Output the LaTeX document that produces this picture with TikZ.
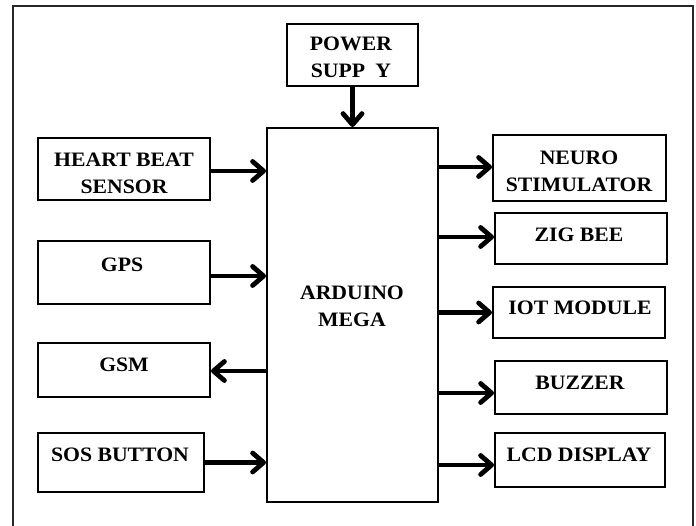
\documentclass[tikz,border=0pt]{standalone}
\usepackage{fontspec}
\setmainfont[FakeStretch=1.06]{Liberation Serif}
\usetikzlibrary{arrows.meta}
\begin{document}
\begin{tikzpicture}[x=1pt,y=-1pt,
  blk/.style={draw=black, line width=2pt, rectangle, inner sep=0pt},
  lbl/.style={font=\bfseries\fontsize{20.5}{27}\selectfont, align=center, inner sep=0pt},
  arr/.style={line width=4.8pt, -{Straight Barb[length=11pt,width=19pt,round]}},
  frm/.style={draw=black!85, line width=1.8pt}
]
\useasboundingbox (0,0) rectangle (696,526);
\begin{scope}
\clip (0,0) rectangle (696,526);
\draw[frm] (13,540) -- (13,6) -- (693,6) -- (693,540);
\end{scope}
% boxes
\node[blk, minimum width=131pt, minimum height=62pt] (ps) at (352.5,55) {};
\node[blk, minimum width=171pt, minimum height=374pt] (ard) at (352.5,315) {};
\node[blk, minimum width=172pt, minimum height=62pt] (hb) at (124,169) {};
\node[blk, minimum width=172pt, minimum height=63pt] (gps) at (124,272.5) {};
\node[blk, minimum width=172pt, minimum height=54pt] (gsm) at (124,370) {};
\node[blk, minimum width=166pt, minimum height=59pt] (sos) at (121,462.5) {};
\node[blk, minimum width=173pt, minimum height=66pt] (neuro) at (579.5,168) {};
\node[blk, minimum width=172pt, minimum height=51pt] (zig) at (581,238.5) {};
\node[blk, minimum width=172pt, minimum height=51pt] (iot) at (579,312.5) {};
\node[blk, minimum width=172pt, minimum height=53pt] (buzz) at (581,387.5) {};
\node[blk, minimum width=170pt, minimum height=54pt] (lcd) at (580,460) {};
% labels
\node[lbl] (tps) at (351,57.5) {POWER\\SUPP\hspace{0.5em}Y};
\node[lbl] (tard) at (352,306.5) {ARDUINO\\MEGA};
\node[lbl] (thb) at (124,173.5) {HEART BEAT\\SENSOR};
\node[lbl] (tgps) at (122,265) {GPS};
\node[lbl] (tgsm) at (124,365) {GSM};
\node[lbl] (tsos) at (120,455) {SOS BUTTON};
\node[lbl] (tneuro) at (579,171) {NEURO\\STIMULATOR};
\node[lbl] (tzig) at (579,235) {ZIG BEE};
\node[lbl] (tiot) at (580,308) {IOT MODULE};
\node[lbl] (tbuzz) at (580,383) {BUZZER};
\node[lbl] (tlcd) at (579,455) {LCD DISPLAY};
% connectors
\draw[arr] (ps.south) -- (ps.south |- ard.north);
\draw[arr] ([yshift=-2pt]hb.east) -- ([yshift=-2pt]hb.east -| ard.west);
\draw[arr] ([yshift=-3.5pt]gps.east) -- ([yshift=-3.5pt]gps.east -| ard.west);
\draw[arr] ([yshift=-1pt]gsm.east -| ard.west) -- ([yshift=-1pt]gsm.east);
\draw[arr] (sos.east) -- (sos.east -| ard.west);
\draw[arr] ([yshift=1pt]neuro.west -| ard.east) -- ([yshift=1pt]neuro.west);
\draw[arr] ([yshift=1.5pt]zig.west -| ard.east) -- ([yshift=1.5pt]zig.west);
\draw[arr] (iot.west -| ard.east) -- (iot.west);
\draw[arr] ([yshift=-5.5pt]buzz.west -| ard.east) -- ([yshift=-5.5pt]buzz.west);
\draw[arr] ([yshift=-5pt]lcd.west -| ard.east) -- ([yshift=-5pt]lcd.west);
\end{tikzpicture}
\end{document}
